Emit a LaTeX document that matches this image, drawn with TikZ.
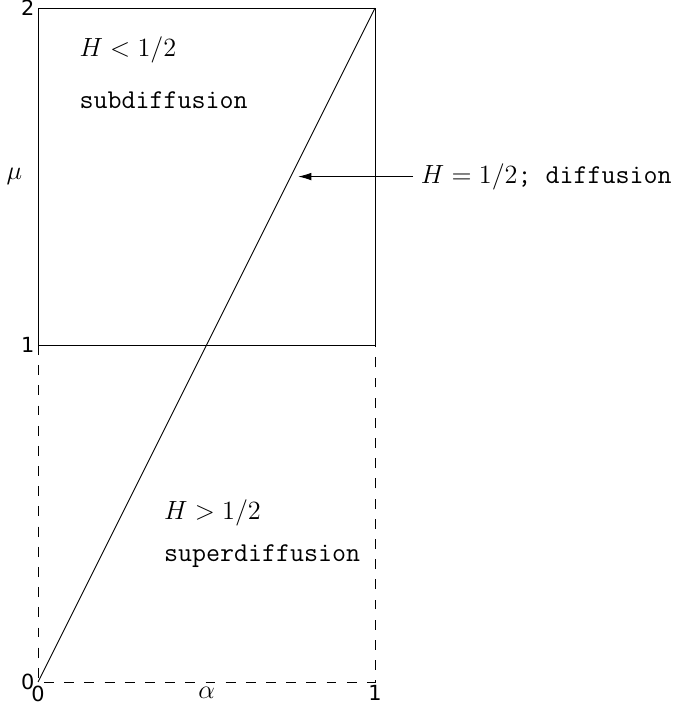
\documentclass[tikz,border=0pt]{standalone}
\usepackage{fontspec}
\newfontfamily\tickfont{DejaVu Sans}
\usetikzlibrary{positioning,arrows.meta}

\begin{document}
\begin{tikzpicture}[x=5.4cm,y=5.4cm,font=\fontsize{12.4}{15}\selectfont]
  \useasboundingbox (-0.113,-0.086) rectangle (1.893,2.024);
  \tikzset{tick/.style={font=\tickfont\fontsize{9.5}{10}\selectfont, inner sep=1.5pt}}
  \coordinate (o) at (0,0);
  \coordinate (a1) at (1,0);
  \coordinate (m1) at (0,1);
  \coordinate (c1) at (1,1);
  \coordinate (m2) at (0,2);
  \coordinate (c2) at (1,2);
  % box and dashed part
  \draw (m1) -- (m2) -- (c2) -- (c1) -- cycle;
  \draw[dash pattern=on 4.5pt off 4.7pt] (m1) -- (o) -- (a1) -- (c1);
  \draw (o) -- (c2);
  % ticks and axis labels
  \node[tick, left] (t2) at (m2) {2};
  \node[tick, left] (t1) at (m1) {1};
  \node[tick, left] (t0) at (o) {0};
  \node[tick, below] (s0) at (o) {0};
  \node[tick, below] (s1) at (a1) {1};
  \node[below, inner sep=2pt] (alpha) at (0.5,0) {$\alpha$};
  \node (mu) at (-0.07,1.5) {$\mu$};
  % regions
  \node[anchor=west] (hsub) at (0.10,1.875) {$H<1/2$};
  \node[anchor=west] (sub) at (0.10,1.727) {\texttt{subdiffusion}};
  \node[anchor=west] (hsup) at (0.351,0.501) {$H>1/2$};
  \node[anchor=west] (sup) at (0.351,0.374) {\texttt{superdiffusion}};
  \node[anchor=west] (diff) at (1.113,1.5) {$H=1/2$\texttt{; diffusion}};
  \coordinate (tip) at (0.772,1.5);
  \draw[-{Latex[length=6pt,width=3.5pt]}] (diff.west) -- (tip);
\end{tikzpicture}
\end{document}
